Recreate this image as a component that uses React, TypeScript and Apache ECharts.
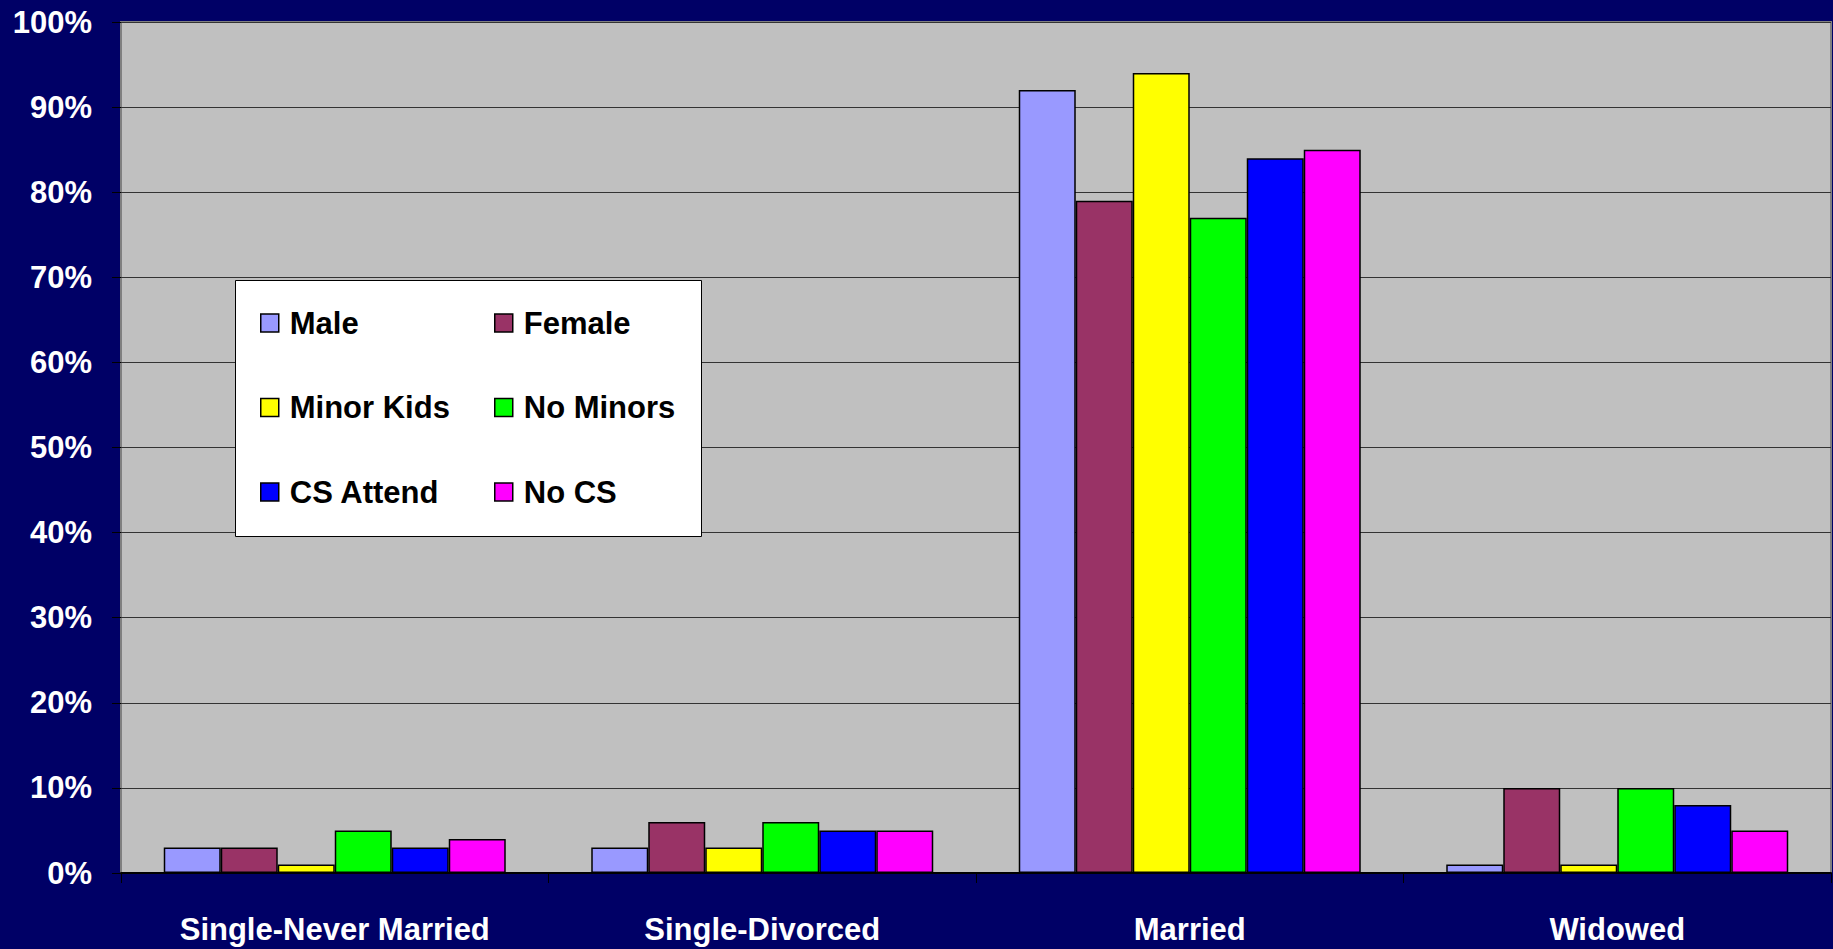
import React, { useEffect, useRef } from "react";
import * as echarts from "echarts";

const categories = ["Single-Never Married", "Single-Divorced", "Married", "Widowed"];
const seriesNames = ["Male", "Female", "Minor Kids", "No Minors", "CS Attend", "No CS"];
const seriesColors = ["#9999FF", "#993366", "#FFFF00", "#00FF00", "#0000FF", "#FF00FF"];
const maleValues = [3, 3, 92, 1];
const femaleValues = [3, 6, 79, 10];
const minorKidsValues = [1, 3, 94, 1];
const noMinorsValues = [5, 6, 77, 10];
const csAttendValues = [3, 5, 84, 8];
const noCsValues = [4, 5, 85, 5];
const yTicks = [0, 10, 20, 30, 40, 50, 60, 70, 80, 90, 100];

const allValues = [maleValues, femaleValues, minorKidsValues, noMinorsValues, csAttendValues, noCsValues];

const FONT = "Arial, 'Liberation Sans', sans-serif";

export default function App() {
  const ref = useRef<HTMLDivElement>(null);
  useEffect(() => {
    if (!ref.current) return;
    const chart = echarts.init(ref.current, null, { renderer: "svg" });
    const legendCommon = {
      orient: "vertical" as const,
      top: 305,
      padding: 0,
      itemWidth: 18,
      itemHeight: 18,
      itemGap: 48.5,
      icon: "rect",
      z: 10,
      selectedMode: false,
      textStyle: {
        color: "#000",
        fontFamily: FONT,
        fontWeight: "bold" as const,
        fontSize: 31,
        lineHeight: 36,
        padding: [0, 0, 0, 6],
      },
      itemStyle: { borderColor: "#000", borderWidth: 1.5 },
    };
    chart.setOption({
      animation: false,
      backgroundColor: "#000066",
      graphic: [
        {
          type: "rect",
          left: 235,
          top: 280,
          z: 5,
          shape: { width: 466, height: 256 },
          style: { fill: "#FFFFFF", stroke: "#000", lineWidth: 1 },
        },
      ],
      legend: [
        { ...legendCommon, left: 260, data: [seriesNames[0], seriesNames[2], seriesNames[4]] },
        { ...legendCommon, left: 494, data: [seriesNames[1], seriesNames[3], seriesNames[5]] },
      ],
      grid: {
        left: 121,
        right: 2,
        top: 22,
        bottom: 76,
        show: true,
        backgroundColor: "#C0C0C0",
        borderColor: "#808080",
        borderWidth: 2,
        containLabel: false,
      },
      xAxis: {
        type: "category",
        data: categories,
        axisLine: { show: true, lineStyle: { color: "#000", width: 2 } },
        axisTick: { show: true, length: 10, interval: 0, lineStyle: { color: "#000", width: 1 } },
        axisLabel: {
          color: "#FFFFFF",
          fontFamily: FONT,
          fontWeight: "bold",
          fontSize: 31,
          margin: 41,
          interval: 0,
        },
        splitLine: { show: false },
      },
      yAxis: {
        type: "value",
        min: yTicks[0],
        max: yTicks[yTicks.length - 1],
        interval: 10,
        axisLine: { show: false },
        axisTick: { show: true, length: 9, lineStyle: { color: "#000", width: 1 } },
        axisLabel: {
          color: "#FFFFFF",
          fontFamily: FONT,
          fontWeight: "bold",
          fontSize: 31,
          margin: 29,
          formatter: "{value}%",
        },
        splitLine: { show: true, lineStyle: { color: "#333333", width: 1 } },
      },
      series: seriesNames.map((name, i) => ({
        name,
        type: "bar",
        data: allValues[i],
        barGap: "0%",
        barCategoryGap: "20%",
        itemStyle: { color: seriesColors[i], borderColor: "#000", borderWidth: 1.5 },
      })),
    });
    return () => chart.dispose();
  }, []);
  return (
    <div
      ref={ref}
      style={{ position: "absolute", left: 0, top: 0, width: 1833, height: 949 }}
    />
  );
}
